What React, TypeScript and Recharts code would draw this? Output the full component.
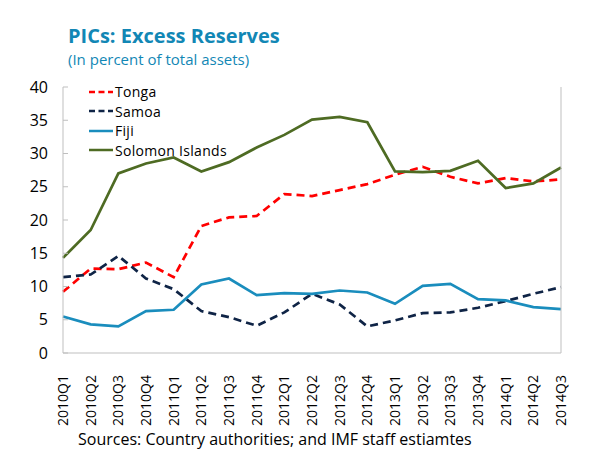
import {
  LineChart,
  Line,
  XAxis,
  YAxis,
  Legend,
} from 'recharts';

const quarters = [
  '2010Q1', '2010Q2', '2010Q3', '2010Q4',
  '2011Q1', '2011Q2', '2011Q3', '2011Q4',
  '2012Q1', '2012Q2', '2012Q3', '2012Q4',
  '2013Q1', '2013Q2', '2013Q3', '2013Q4',
  '2014Q1', '2014Q2', '2014Q3',
];

const tonga = [9.2, 12.7, 12.6, 13.6, 11.4, 19.1, 20.4, 20.6, 23.9, 23.6, 24.5, 25.4, 26.8, 28.0, 26.5, 25.5, 26.3, 25.8, 26.1];
const samoa = [11.4, 11.8, 14.6, 11.2, 9.6, 6.3, 5.4, 4.1, 6.1, 8.9, 7.3, 4.0, 4.9, 6.0, 6.1, 6.8, 7.8, 8.9, 9.9];
const fiji = [5.5, 4.3, 4.0, 6.3, 6.5, 10.3, 11.2, 8.7, 9.0, 8.9, 9.4, 9.1, 7.4, 10.1, 10.4, 8.1, 7.9, 6.9, 6.6];
const solomon = [14.3, 18.5, 27.0, 28.5, 29.4, 27.3, 28.7, 30.9, 32.8, 35.1, 35.5, 34.7, 27.3, 27.2, 27.4, 28.9, 24.8, 25.5, 27.9];

const yTicks = [0, 5, 10, 15, 20, 25, 30, 35, 40];

const FONT = '"Open Sans", sans-serif';
const TITLE_BLUE = '#1287b5';
const BORDER = '#bfbfbf';

const series = [
  { key: 'tonga', name: 'Tonga', color: '#ff0000', dash: '8 5' },
  { key: 'samoa', name: 'Samoa', color: '#0f2446', dash: '8 5' },
  { key: 'fiji', name: 'Fiji', color: '#1a8dbd', dash: undefined },
  { key: 'solomon', name: 'Solomon Islands', color: '#4e6b23', dash: undefined },
];

const data = quarters.map((q, i) => ({
  quarter: q,
  tonga: tonga[i],
  samoa: samoa[i],
  fiji: fiji[i],
  solomon: solomon[i],
  idx: i + 0.5,
}));

const QuarterTick = ({ x, y, payload }: any) => (
  <g transform={`translate(${x},${y + 14})`}>
    <text
      transform="rotate(-90)"
      textAnchor="end"
      dy="0.36em"
      fontSize={14}
      fontFamily={FONT}
      fill="#000"
    >
      {payload.value}
    </text>
  </g>
);

const LegendBox = () => (
  <div style={{ fontFamily: FONT, fontSize: 14, lineHeight: '19.5px', letterSpacing: 0.3, color: '#000' }}>
    {series.map(s => (
      <div key={s.key} style={{ display: 'flex', alignItems: 'center', height: 19.5 }}>
        <svg width={26} height={6} style={{ marginRight: 1 }}>
          <line
            x1={1}
            y1={3}
            x2={25}
            y2={3}
            stroke={s.color}
            strokeWidth={2.5}
            strokeDasharray={s.dash ? '6 3.5' : undefined}
          />
        </svg>
        <span>{s.name}</span>
      </div>
    ))}
  </div>
);

export default function App() {
  const axisText = { fontSize: 16, fontFamily: FONT, fill: '#000' };

  return (
    <div style={{ position: 'absolute', left: 0, top: 0, width: 600, height: 449, background: '#fff' }}>
      <div
        style={{
          position: 'absolute',
          left: 68,
          top: 22,
          fontFamily: FONT,
          fontWeight: 700,
          fontSize: 20,
          color: TITLE_BLUE,
          whiteSpace: 'nowrap',
        }}
      >
        PICs: Excess Reserves
      </div>
      <div
        style={{
          position: 'absolute',
          left: 68,
          top: 49,
          fontFamily: FONT,
          fontSize: 15,
          color: TITLE_BLUE,
          whiteSpace: 'nowrap',
        }}
      >
        (In percent of total assets)
      </div>

      <div style={{ position: 'absolute', left: 0, top: 0 }}>
        <LineChart
          width={600}
          height={449}
          data={data}
          margin={{ top: 87, right: 9, left: 33, bottom: 16 }}
        >
          <XAxis
            xAxisId="top"
            orientation="top"
            dataKey="idx"
            type="number"
            domain={[0, quarters.length]}
            height={0}
            tick={false}
            tickLine={false}
            axisLine={{ stroke: BORDER }}
          />
          <XAxis
            dataKey="quarter"
            height={80}
            interval={0}
            tick={<QuarterTick />}
            tickLine={false}
            axisLine={{ stroke: BORDER }}
          />
          <XAxis
            xAxisId="edges"
            dataKey="idx"
            type="number"
            domain={[0, quarters.length]}
            ticks={quarters.slice(1).map((_, i) => i + 1)}
            height={0}
            mirror
            tick={false}
            tickSize={5}
            tickLine={{ stroke: BORDER }}
            axisLine={false}
          />
          <YAxis
            yAxisId="left"
            width={30}
            domain={[0, 40]}
            ticks={yTicks}
            interval={0}
            tick={axisText}
            tickSize={-5}
            tickMargin={20}
            tickLine={{ stroke: BORDER }}
            axisLine={{ stroke: BORDER }}
          />
          <YAxis
            yAxisId="right"
            orientation="right"
            width={30}
            domain={[0, 40]}
            ticks={yTicks}
            interval={0}
            tick={axisText}
            tickSize={0}
            tickMargin={14}
            tickLine={false}
            axisLine={{ stroke: BORDER }}
          />
          <Legend
            layout="vertical"
            align="center"
            verticalAlign="middle"
            content={<LegendBox />}
            wrapperStyle={{ left: 88, top: 82, width: 200 }}
          />
          {series.map(s => (
            <Line
              key={s.key}
              yAxisId="left"
              type="linear"
              dataKey={s.key}
              name={s.name}
              stroke={s.color}
              strokeWidth={2.7}
              strokeDasharray={s.dash}
              dot={false}
              activeDot={false}
              isAnimationActive={false}
            />
          ))}
        </LineChart>
      </div>

      <div
        style={{
          position: 'absolute',
          left: 78,
          top: 429,
          fontFamily: FONT,
          fontSize: 16,
          lineHeight: '20px',
          color: '#000',
          whiteSpace: 'nowrap',
        }}
      >
        Sources: Country authorities; and IMF staff estiamtes
      </div>
    </div>
  );
}
